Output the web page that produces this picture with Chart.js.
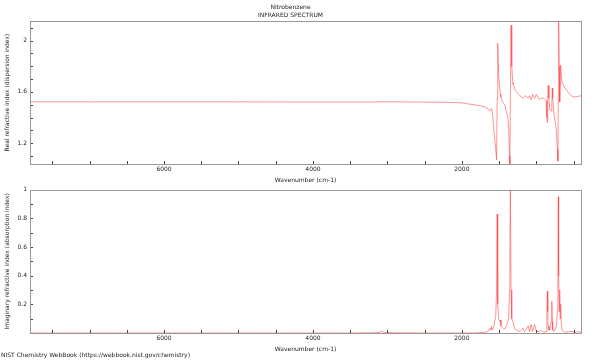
<!DOCTYPE html>
<html lang="en">
<head>
    <meta charset="UTF-8">
    <title>Nitrobenzene - Infrared Spectrum</title>
    <script src="https://cdn.jsdelivr.net/npm/chart.js"></script>
    <style>
        body { margin: 0; background: #fff; }
        .box { position: absolute; left: 0; width: 600px; }
        #footer { position: absolute; left: 1px; top: 351px; font: 6px "DejaVu Sans"; color: #222; white-space: nowrap; }
    </style>
</head>
<body>
    <div class="box" style="top:0; height:184px;"><canvas id="realChart" width="600" height="184"></canvas></div>
    <div class="box" style="top:183px; height:170px;"><canvas id="imagChart" width="600" height="170"></canvas></div>
    <div id="footer">NIST Chemistry WebBook (https://webbook.nist.gov/chemistry)</div>

    <script>
        // wavenumber (cm-1)
        const wavenumbers = [7800, 7000, 6000, 5000, 4000, 3500, 3200, 3110, 3100, 3080, 3060, 3000, 2800, 2500, 2200, 2000, 1900, 1800, 1700, 1650,
            1624, 1610, 1600, 1590, 1570, 1545, 1534, 1526, 1518, 1505, 1490, 1480, 1475, 1460, 1440, 1423, 1400, 1382, 1370, 1360,
            1355, 1348, 1340, 1330, 1315, 1310, 1290, 1266, 1220, 1180, 1160, 1140, 1110, 1090, 1070, 1050, 1023, 1000, 960, 942,
            900, 870, 858, 852, 846, 842, 830, 820, 800, 792, 786, 780, 760, 730, 718, 710, 704, 700, 692, 686,
            680, 673, 665, 655, 618, 550, 520, 484, 440, 400];
        // real refractive index (dispersion index)
        const realIndex = [1.522, 1.522, 1.522, 1.522, 1.521, 1.521, 1.521, 1.521, 1.525, 1.524, 1.522, 1.523, 1.522, 1.520, 1.518, 1.514, 1.505, 1.496, 1.485, 1.47,
            1.45, 1.46, 1.47, 1.44, 1.30, 1.15, 1.07, 1.55, 1.98, 1.72, 1.62, 1.58, 1.56, 1.53, 1.51, 1.50, 1.44, 1.40, 1.30, 1.10,
            1.00, 1.60, 2.12, 1.80, 1.66, 1.67, 1.62, 1.60, 1.57, 1.55, 1.56, 1.57, 1.55, 1.57, 1.54, 1.58, 1.55, 1.58, 1.54, 1.55,
            1.55, 1.53, 1.40, 1.36, 1.55, 1.65, 1.55, 1.46, 1.45, 1.50, 1.63, 1.55, 1.41, 1.30, 1.15, 1.06, 1.60, 2.20, 1.80, 1.52,
            1.65, 1.81, 1.72, 1.68, 1.63, 1.58, 1.565, 1.56, 1.565, 1.57];
        // imaginary refractive index (absorption index)
        const imagIndex = [0, 0, 0, 0, 0, 0, 0.001, 0.004, 0.008, 0.012, 0.006, 0.003, 0.001, 0, 0, 0, 0, 0.001, 0.004, 0.01,
            0.034, 0.02, 0.045, 0.02, 0.05, 0.12, 0.3, 0.83, 0.2, 0.1, 0.08, 0.09, 0.05, 0.04, 0.03, 0.03, 0.05, 0.08, 0.12, 0.3,
            0.6, 1.0, 0.3, 0.1, 0.08, 0.07, 0.03, 0.02, 0.01, 0.034, 0.01, 0.02, 0.05, 0.01, 0.06, 0.01, 0.06, 0.01, 0.01, 0.02,
            0.005, 0.01, 0.15, 0.29, 0.15, 0.05, 0.02, 0.02, 0.08, 0.22, 0.08, 0.02, 0.01, 0.05, 0.15, 0.5, 0.95, 0.4, 0.15, 0.30,
            0.1, 0.2, 0.05, 0.02, 0.005, 0.01, 0.012, 0.003, 0.01, 0.005];

        const xTicks = [2000, 4000, 6000];
        const realTicks = [1.2, 1.6, 2];
        const imagTicks = [0.2, 0.4, 0.6, 0.8, 1];

        const FONT = 'DejaVu Sans';
        const TEXT = '#222';

        // frame + small inward ticks, major and minor, on left and bottom
        const framePlugin = {
            id: 'frame',
            afterDraw(chart) {
                const { ctx, chartArea: a } = chart;
                const xs = chart.scales.x, ys = chart.scales.y;
                ctx.save();
                ctx.strokeStyle = '#444';
                ctx.lineWidth = 1;
                ctx.beginPath();
                for (let v = 500; v <= xs.max; v += 500) {
                    const px = Math.round(xs.getPixelForValue(v)) + 0.5;
                    if (px <= a.left || px >= a.right) continue;
                    ctx.moveTo(px, a.bottom);
                    ctx.lineTo(px, a.bottom - 3);
                }
                for (let v = Math.ceil(ys.min * 10) / 10; v <= ys.max; v += 0.1) {
                    const py = Math.round(ys.getPixelForValue(v)) + 0.5;
                    if (py <= a.top || py >= a.bottom) continue;
                    ctx.moveTo(a.left, py);
                    ctx.lineTo(a.left + 3, py);
                }
                ctx.stroke();
                ctx.strokeStyle = '#999';
                ctx.strokeRect(Math.round(a.left) + 0.5, Math.round(a.top) + 0.5,
                    Math.round(a.right - a.left), Math.round(a.bottom - a.top));
                ctx.restore();
            }
        };

        function makeChart(id, values, yMin, yMax, yTicks, yTitle, title, padTop) {
            const ctx = document.getElementById(id).getContext('2d');
            return new Chart(ctx, {
                type: 'line',
                data: {
                    datasets: [{
                        data: wavenumbers.map((w, i) => ({ x: w, y: values[i] })),
                        borderColor: 'rgba(255, 60, 60, 0.55)',
                        borderWidth: 1,
                        pointRadius: 0,
                        tension: 0
                    }]
                },
                options: {
                    responsive: false,
                    animation: false,
                    layout: { padding: { top: padTop, right: 19, left: 0, bottom: 0 } },
                    plugins: {
                        legend: { display: false },
                        tooltip: { enabled: false },
                        title: {
                            display: !!title,
                            text: title,
                            color: TEXT,
                            font: { family: FONT, size: 6, weight: 'normal', lineHeight: 1.34 },
                            padding: { top: 3, bottom: 2 }
                        }
                    },
                    scales: {
                        x: {
                            type: 'linear',
                            reverse: true,
                            min: 400,
                            max: 7800,
                            grid: { display: false, drawTicks: false },
                            border: { display: false },
                            afterBuildTicks: s => { s.ticks = xTicks.map(v => ({ value: v })); },
                            afterFit: s => { s.height = 20; },
                            ticks: { color: TEXT, font: { family: FONT, size: 6 }, padding: 2, maxRotation: 0, autoSkip: false,
                                callback: v => String(v) },
                            title: { display: true, text: 'Wavenumber (cm-1)', color: TEXT, font: { family: FONT, size: 6 }, padding: 0 }
                        },
                        y: {
                            min: yMin,
                            max: yMax,
                            grid: { display: false, drawTicks: false },
                            border: { display: false },
                            afterBuildTicks: s => { s.ticks = yTicks.map(v => ({ value: v })); },
                            afterFit: s => { s.width = 30; },
                            ticks: { color: TEXT, font: { family: FONT, size: 6 }, padding: 3, autoSkip: false,
                                callback: v => String(v) },
                            title: { display: true, text: yTitle, color: TEXT, font: { family: FONT, size: 6 }, padding: { top: 4, bottom: 0 } }
                        }
                    }
                },
                plugins: [framePlugin]
            });
        }

        makeChart('realChart', realIndex, 1.0375, 2.152, realTicks,
            'Real refractive index (dispersion index)', ['Nitrobenzene', 'INFRARED SPECTRUM'], 0);
        makeChart('imagChart', imagIndex, 0, 1, imagTicks,
            'Imaginary refractive index (absorption index)', null, 6);
    </script>
</body>
</html>
